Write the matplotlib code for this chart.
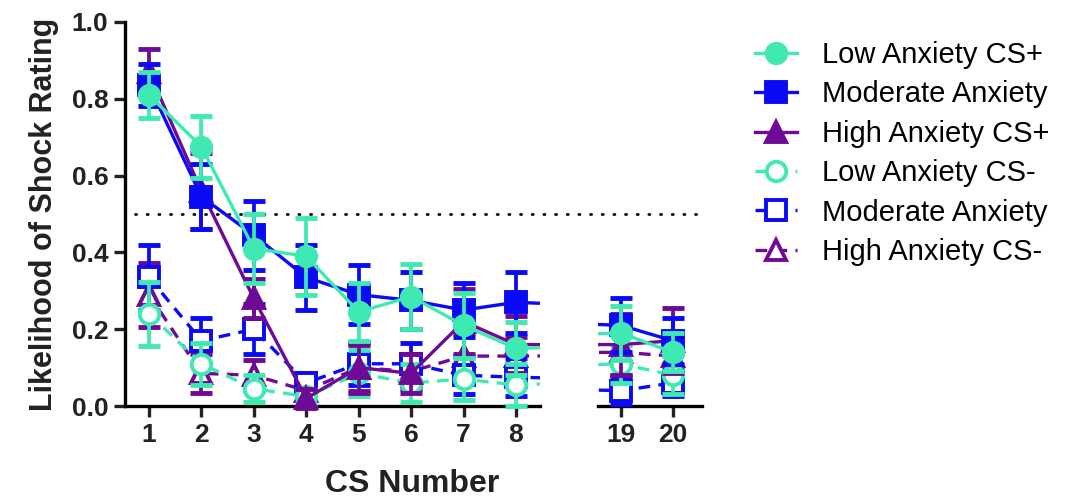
import matplotlib.pyplot as plt
from matplotlib.lines import Line2D

plt.rcParams['font.family'] = ['Liberation Sans', 'DejaVu Sans']

# CS trials shown: 1-8 in the first block, 19-20 in the late block
cs_numbers = [1, 2, 3, 4, 5, 6, 7, 8, 19, 20]

low_plus = [0.81, 0.675, 0.41, 0.39, 0.245, 0.285, 0.21, 0.15, 0.19, 0.14]
low_plus_err = [0.06, 0.08, 0.09, 0.10, 0.075, 0.085, 0.085, 0.07, 0.07, 0.05]
mod_plus = [0.835, 0.545, 0.445, 0.335, 0.29, 0.275, 0.25, 0.27, 0.21, 0.17]
mod_plus_err = [0.055, 0.085, 0.09, 0.085, 0.077, 0.075, 0.07, 0.08, 0.07, 0.06]
high_plus = [0.87, 0.56, 0.28, 0.02, 0.10, 0.085, 0.22, 0.16, 0.16, 0.17]
high_plus_err = [0.06, 0.098, 0.05, 0.025, 0.065, 0.05, 0.085, 0.075, 0.08, 0.085]

low_minus = [0.24, 0.11, 0.045, 0.025, 0.085, 0.06, 0.07, 0.055, 0.11, 0.08]
low_minus_err = [0.083, 0.055, 0.035, 0.02, 0.06, 0.05, 0.055, 0.055, 0.05, 0.05]
mod_minus = [0.335, 0.17, 0.20, 0.06, 0.11, 0.11, 0.08, 0.075, 0.04, 0.06]
mod_minus_err = [0.085, 0.06, 0.065, 0.025, 0.055, 0.055, 0.05, 0.05, 0.035, 0.035]
high_minus = [0.29, 0.085, 0.08, 0.04, 0.10, 0.09, 0.13, 0.13, 0.14, 0.13]
high_minus_err = [0.083, 0.05, 0.04, 0.02, 0.06, 0.045, 0.06, 0.05, 0.06, 0.06]

labels = ['Low Anxiety CS+', 'Moderate Anxiety', 'High Anxiety CS+',
          'Low Anxiety CS-', 'Moderate Anxiety', 'High Anxiety CS-']

AQUA = '#3FEAB2'
BLUE = '#0A0AF5'
PURPLE = '#6E0A96'
DASH = (0, (3.5, 2.5))

series = [
    (low_plus, low_plus_err, AQUA, 'o', True, '-'),
    (mod_plus, mod_plus_err, BLUE, 's', True, '-'),
    (high_plus, high_plus_err, PURPLE, '^', True, '-'),
    (low_minus, low_minus_err, AQUA, 'o', False, DASH),
    (mod_minus, mod_minus_err, BLUE, 's', False, DASH),
    (high_minus, high_minus_err, PURPLE, '^', False, DASH),
]

fig = plt.figure(figsize=(10.72, 5.01), dpi=100)
ax1 = fig.add_axes([0.1166, 0.1896, 0.3871, 0.7665])
ax2 = fig.add_axes([0.5578, 0.1896, 0.0970, 0.7665])
ax2.patch.set_visible(False)

LW = 2.4
MS = 14

def draw_block(ax, idx):
    # reversed so that the CS+ / low-anxiety groups sit on top
    for z, (vals, errs, col, mk, filled, ls) in enumerate(reversed(series)):
        ax.plot(cs_numbers, vals, color=col, lw=LW, ls=ls, zorder=2 + z)
        xs = [cs_numbers[i] for i in idx]
        ys = [vals[i] for i in idx]
        es = [errs[i] for i in idx]
        ax.errorbar(xs, ys, yerr=es, fmt='none', ecolor=col, elinewidth=LW + 0.3,
                    capsize=8, capthick=3.5, zorder=2 + z, clip_on=False)
        ax.plot(xs, ys, ls='none', marker=mk, ms=MS, mew=2.8,
                mfc=col if filled else 'white', mec=col,
                zorder=2.5 + z, clip_on=False)

draw_block(ax1, range(8))
draw_block(ax2, [8, 9])

ax1.set_xlim(0.542, 8.458)
ax2.set_xlim(18.558, 20.558)
for ax in (ax1, ax2):
    ax.set_ylim(0, 1.0)
    for s in ('top', 'right'):
        ax.spines[s].set_visible(False)
    ax.spines['bottom'].set_linewidth(LW)
    ax.spines['left'].set_linewidth(LW)
    ax.tick_params(width=LW, length=8, labelsize=19, colors='#222222', pad=4)

ax1.set_xticks(cs_numbers[:8])
ax1.set_xticklabels([str(c) for c in cs_numbers[:8]], fontweight='bold')
ax1.set_yticks([0.0, 0.2, 0.4, 0.6, 0.8, 1.0])
ax1.set_yticklabels(['0.0', '0.2', '0.4', '0.6', '0.8', '1.0'], fontweight='bold')

ax2.set_xticks(cs_numbers[8:])
ax2.set_xticklabels([str(c) for c in cs_numbers[8:]], fontweight='bold')
ax2.spines['left'].set_visible(False)
ax2.set_yticks([])

# chance line at 0.5 running across both blocks
ax1.plot([0.024, 1.386], [0.5, 0.5], transform=ax1.get_yaxis_transform(),
         color='black', ls=(0, (0.4, 3.8)), lw=2.0, dash_capstyle='round',
         clip_on=False, zorder=1)

ax1.set_ylabel('Likelihood of Shock Rating', fontsize=22, fontweight='bold',
               color='#222222', labelpad=9)
fig.text(0.384, 0.018, 'CS Number', fontsize=23, fontweight='bold',
         color='#222222', ha='center', va='baseline')

handles = []
for vals, errs, col, mk, filled, ls in series:
    handles.append(Line2D([], [], color=col, lw=LW, ls=ls, marker=mk, ms=MS,
                          mew=2.8, mfc=col if filled else 'white', mec=col))
fig.legend(handles, labels, loc='upper left', bbox_to_anchor=(0.704, 0.918),
           frameon=False, fontsize=21, handlelength=1.45, handletextpad=0.86,
           labelspacing=0.39, borderaxespad=0, borderpad=0)

fig.savefig('out.png', dpi=100)
